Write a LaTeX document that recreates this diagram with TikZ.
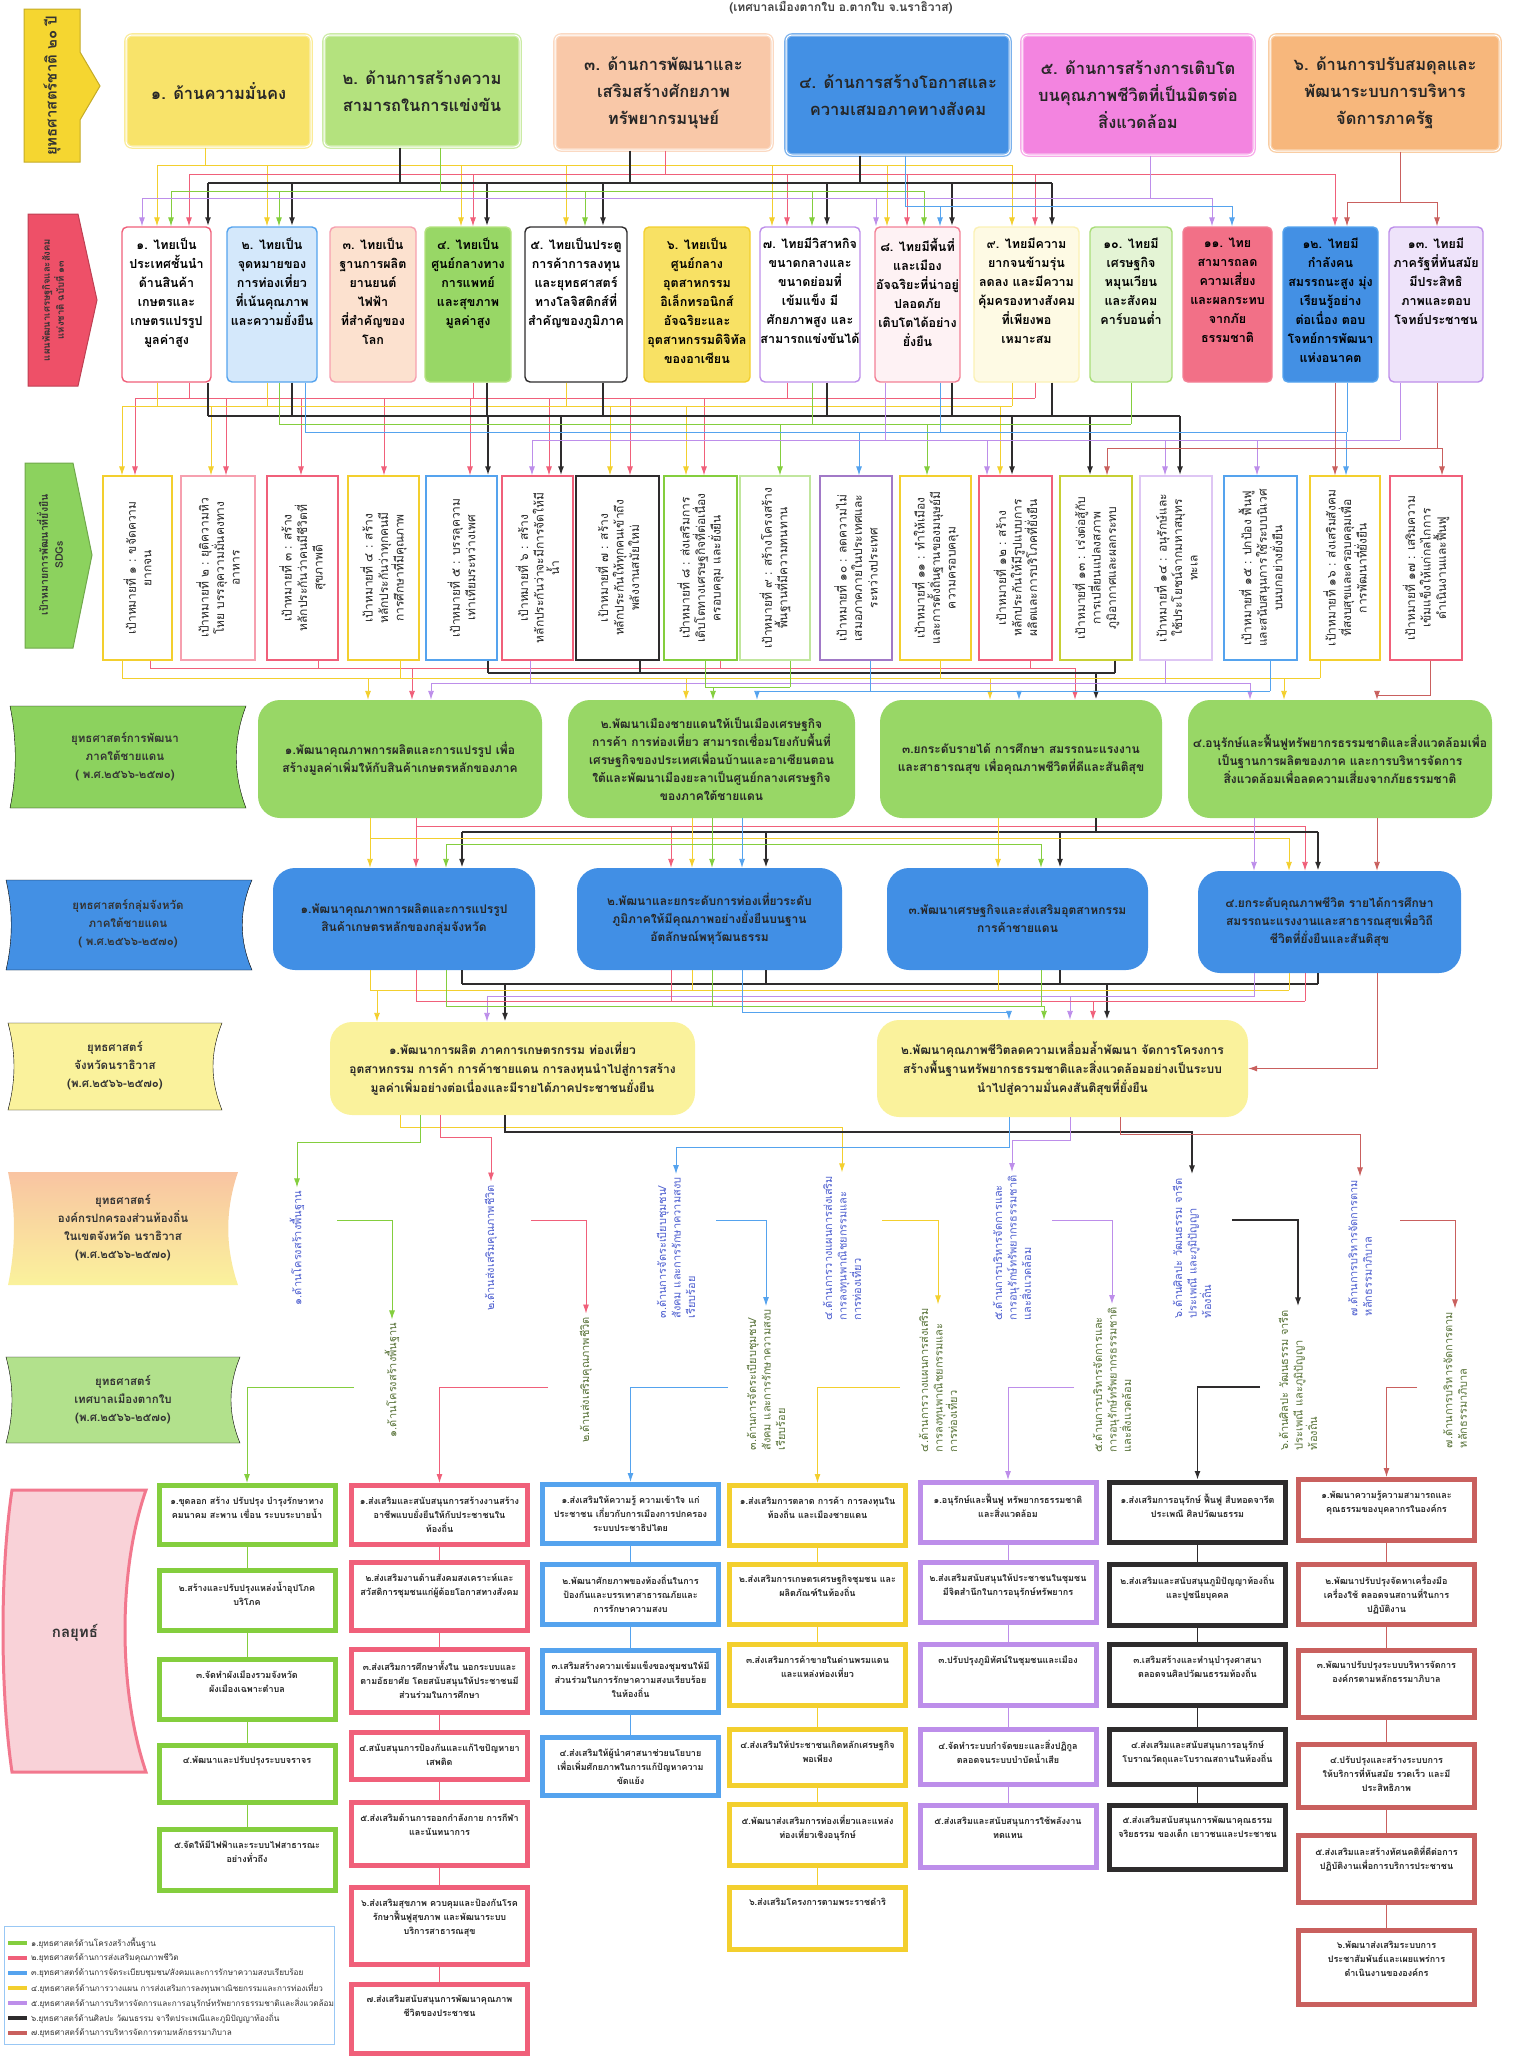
\documentclass[tikz,border=0pt]{standalone}
\usepackage{fontspec}
\setmainfont{Loma}[Script=Thai]
\usetikzlibrary{calc,arrows.meta}

\definecolor{nsYel}{HTML}{F8E36A}
\definecolor{nsGrn}{HTML}{B4E27E}
\definecolor{nsPch}{HTML}{F9C8A8}
\definecolor{nsBlu}{HTML}{4390E4}
\definecolor{nsMag}{HTML}{F384E0}
\definecolor{nsOrg}{HTML}{F7B77C}
\definecolor{lnYel}{HTML}{F3CF2E}
\definecolor{lnPnk}{HTML}{F0607A}
\definecolor{lnGrn}{HTML}{84CE3E}
\definecolor{lnBlu}{HTML}{55A3EE}
\definecolor{lnPur}{HTML}{BD8EEA}
\definecolor{lnBlk}{HTML}{2E2C2D}
\definecolor{lnBrn}{HTML}{C9605E}
\definecolor{bnYel}{HTML}{F5D630}
\definecolor{bnRed}{HTML}{EE5068}
\definecolor{bnGrn}{HTML}{8CD25E}
\definecolor{bnBlu}{HTML}{4390E4}
\definecolor{bnLem}{HTML}{FAF29C}
\definecolor{bnPch}{HTML}{F9C4A2}
\definecolor{bnPnk}{HTML}{F9D2D8}
\definecolor{regGrn}{HTML}{98D766}
\definecolor{grpBlu}{HTML}{418FE5}
\definecolor{prvYel}{HTML}{FAF29C}
\definecolor{locCol}{HTML}{4E5FCF}
\definecolor{munCol}{HTML}{587238}

\tikzset{
  nsbox/.style={draw=#1!70!white, double=white, double distance=1pt, line width=1.3pt,
    fill=#1, rounded corners=6pt, align=center, text=black!85,
    font=\fontsize{16.5}{27}\selectfont\bfseries},
  npbox/.style 2 args={draw=#1, fill=#2, line width=1.4pt, rounded corners=5pt, minimum height=155pt},
  nptext/.style={anchor=north, yshift=-8pt, align=center, font=\fontsize{12.5}{19}\selectfont\bfseries},
  sdgbox/.style={draw=#1, line width=1.2pt, fill=white, minimum height=184pt},
  sdgtext/.style={rotate=90, align=center, text=black!85, font=\fontsize{12}{15.5}\selectfont},
  rowbox/.style={fill=#1, rounded corners=22pt, align=center, text=black!85,
    font=\fontsize{12}{18}\selectfont\bfseries},
  banner/.style={fill=#1, draw=#1!80!black, line width=1pt},
  tape/.style={fill=#1},
  bantext/.style={align=center, text=black!80, font=\fontsize{11.5}{18}\selectfont\bfseries},
  loctext/.style={rotate=90, align=left, text=locCol, font=\fontsize{11}{14.5}\selectfont},
  muntext/.style={rotate=90, align=left, text=munCol, font=\fontsize{11}{14.5}\selectfont},
  kbox/.style={draw=#1, line width=5pt, fill=white, minimum width=176pt},
  ktext/.style={anchor=north, yshift=-10pt, align=center, text=black!85,
    font=\fontsize{9}{14}\selectfont\bfseries},
  lye/.style={draw=lnYel, line width=0.9pt},
  lpk/.style={draw=lnPnk, line width=0.9pt},
  lgr/.style={draw=lnGrn, line width=0.9pt},
  lbl/.style={draw=lnBlu, line width=0.9pt},
  lpu/.style={draw=lnPur, line width=0.9pt},
  lbk/.style={draw=lnBlk, line width=1.7pt},
  lbr/.style={draw=lnBrn, line width=0.9pt},
}

\begin{document}
\begin{tikzpicture}[x=1pt, y=-1pt, >={Latex[length=9pt,width=6pt]}]
\useasboundingbox (0,0) rectangle (1515,2061);

\node[font=\fontsize{12}{14}\selectfont\bfseries, text=black!75] (title) at (841,8) {(เทศบาลเมืองตากใบ อ.ตากใบ จ.นราธิวาส)};

% row labels
\draw[banner=bnYel] (24,9) -- (80,9) -- (80,52) -- (100,86) -- (80,120) -- (80,162) -- (24,162) -- cycle;
\node[bantext, rotate=90, font=\fontsize{15}{20}\selectfont\bfseries] (lab1) at (52,86) {ยุทธศาสตร์ชาติ ๒๐ ปี};
\draw[banner=bnRed] (28,214) -- (78,214) -- (97,300) -- (78,386) -- (28,386) -- cycle;
\node[bantext, rotate=90, font=\fontsize{9.5}{14}\selectfont\bfseries] (lab2) at (53,300) {แผนพัฒนาเศรษฐกิจและสังคม\\แห่งชาติ ฉบับที่ ๑๓};
\draw[banner=bnGrn] (25,463) -- (73,463) -- (92,555) -- (73,648) -- (25,648) -- cycle;
\node[bantext, rotate=90, font=\fontsize{10.5}{15}\selectfont\bfseries] (lab3) at (50,555) {เป้าหมายการพัฒนาที่ยั่งยืน\\SDGs};
\draw[tape=bnGrn] (10,706) -- (246,706) .. controls (233,740) and (233,774) .. (246,808) -- (10,808) .. controls (17,774) and (17,740) .. (10,706) -- cycle;
\node[bantext] (lab4) at (125,757) {ยุทธศาสตร์การพัฒนา\\ภาคใต้ชายแดน\\( พ.ศ.๒๕๖๖-๒๕๗๐)};
\draw[tape=bnBlu] (6,880) -- (252,880) .. controls (239,910) and (239,940) .. (252,970) -- (6,970) .. controls (13,940) and (13,910) .. (6,880) -- cycle;
\node[bantext] (lab5) at (128,924) {ยุทธศาสตร์กลุ่มจังหวัด\\ภาคใต้ชายแดน\\( พ.ศ.๒๕๖๖-๒๕๗๐)};
\draw[tape=bnLem] (8,1023) -- (222,1023) .. controls (210,1053) and (210,1080) .. (222,1110) -- (8,1110) .. controls (16,1080) and (16,1053) .. (8,1023) -- cycle;
\node[bantext] (lab6) at (115,1066) {ยุทธศาสตร์\\จังหวัดนราธิวาส\\(พ.ศ.๒๕๖๖-๒๕๗๐)};
\draw[top color=bnPch, bottom color=bnLem, draw=none] (8,1172) -- (238,1172) .. controls (225,1210) and (225,1247) .. (238,1285) -- (8,1285) .. controls (16,1247) and (16,1210) .. (8,1172) -- cycle;
\node[bantext] (lab7) at (123,1228) {ยุทธศาสตร์\\องค์กรปกครองส่วนท้องถิ่น\\ในเขตจังหวัด นราธิวาส\\(พ.ศ.๒๕๖๖-๒๕๗๐)};
\draw[tape=regGrn!75] (6,1357) -- (240,1357) .. controls (228,1386) and (228,1414) .. (240,1443) -- (6,1443) .. controls (14,1414) and (14,1386) .. (6,1357) -- cycle;
\node[bantext] (lab8) at (123,1400) {ยุทธศาสตร์\\เทศบาลเมืองตากใบ\\(พ.ศ.๒๕๖๖-๒๕๗๐)};
\draw[fill=bnPnk, draw=lnPnk!85, line width=3pt] (12,1490) -- (146,1490) .. controls (118,1570) and (118,1690) .. (146,1772) -- (12,1772) .. controls (0,1690) and (0,1570) .. (12,1490) -- cycle;
\node[bantext, font=\fontsize{15}{20}\selectfont\bfseries] (lab9) at (75,1633) {กลยุทธ์};

% national strategy
\node[nsbox=nsYel, minimum width=185pt, minimum height=112pt] (ns1) at (218.5,91) {๑. ด้านความมั่นคง};
\node[nsbox=nsGrn, minimum width=196pt, minimum height=112pt] (ns2) at (422,91) {๒. ด้านการสร้างความ\\สามารถในการแข่งขัน};
\node[nsbox=nsPch, minimum width=217pt, minimum height=115pt] (ns3) at (663.5,92.5) {๓. ด้านการพัฒนาและ\\เสริมสร้างศักยภาพ\\ทรัพยากรมนุษย์};
\node[nsbox=nsBlu, minimum width=224pt, minimum height=120pt] (ns4) at (898,95) {๔. ด้านการสร้างโอกาสและ\\ความเสมอภาคทางสังคม};
\node[nsbox=nsMag, minimum width=232pt, minimum height=120pt] (ns5) at (1138,95) {๕. ด้านการสร้างการเติบโต\\บนคุณภาพชีวิตที่เป็นมิตรต่อ\\สิ่งแวดล้อม};
\node[nsbox=nsOrg, minimum width=230pt, minimum height=116pt] (ns6) at (1385,93) {๖. ด้านการปรับสมดุลและ\\พัฒนาระบบการบริหาร\\จัดการภาครัฐ};

% national plan no. 13
\node[npbox={lnPnk}{white}, minimum width=89pt] (np1) at (166.5,304.5) {};
\node[nptext] (np1t) at (np1.north) {๑. ไทยเป็น\\ประเทศชั้นนำ\\ด้านสินค้า\\เกษตรและ\\เกษตรแปรรูป\\มูลค่าสูง};
\node[npbox={lnBlu}{lnBlu!25}, minimum width=90pt] (np2) at (272,304.5) {};
\node[nptext] (np2t) at (np2.north) {๒. ไทยเป็น\\จุดหมายของ\\การท่องเที่ยว\\ที่เน้นคุณภาพ\\และความยั่งยืน};
\node[npbox={lnPnk!60}{nsPch!55}, minimum width=86pt] (np3) at (373,304.5) {};
\node[nptext] (np3t) at (np3.north) {๓. ไทยเป็น\\ฐานการผลิต\\ยานยนต์\\ไฟฟ้า\\ที่สำคัญของ\\โลก};
\node[npbox={nsGrn}{regGrn}, minimum width=86pt] (np4) at (468,304.5) {};
\node[nptext] (np4t) at (np4.north) {๔. ไทยเป็น\\ศูนย์กลางทาง\\การแพทย์\\และสุขภาพ\\มูลค่าสูง};
\node[npbox={lnBlk}{white}, minimum width=102pt] (np5) at (576,304.5) {};
\node[nptext] (np5t) at (np5.north) {๕. ไทยเป็นประตู\\การค้าการลงทุน\\และยุทธศาสตร์\\ทางโลจิสติกส์ที่\\สำคัญของภูมิภาค};
\node[npbox={lnYel}{nsYel!90!lnYel}, minimum width=106pt] (np6) at (697,304.5) {};
\node[nptext] (np6t) at (np6.north) {๖. ไทยเป็น\\ศูนย์กลาง\\อุตสาหกรรม\\อิเล็กทรอนิกส์\\อัจฉริยะและ\\อุตสาหกรรมดิจิทัล\\ของอาเซียน};
\node[npbox={lnPur}{white}, minimum width=100pt] (np7) at (810,304.5) {};
\node[nptext] (np7t) at (np7.north) {๗. ไทยมีวิสาหกิจ\\ขนาดกลางและ\\ขนาดย่อมที่\\เข้มแข็ง มี\\ศักยภาพสูง และ\\สามารถแข่งขันได้};
\node[npbox={lnPnk!80}{lnPnk!8}, minimum width=85pt] (np8) at (917.5,304.5) {};
\node[nptext] (np8t) at (np8.north) {๘. ไทยมีพื้นที่\\และเมือง\\อัจฉริยะที่น่าอยู่\\ปลอดภัย\\เติบโตได้อย่าง\\ยั่งยืน};
\node[npbox={nsYel!50}{nsYel!18}, minimum width=105pt] (np9) at (1026.5,304.5) {};
\node[nptext] (np9t) at (np9.north) {๙. ไทยมีความ\\ยากจนข้ามรุ่น\\ลดลง และมีความ\\คุ้มครองทางสังคม\\ที่เพียงพอ\\เหมาะสม};
\node[npbox={lnGrn!70}{lnGrn!22}, minimum width=82pt] (np10) at (1131,304.5) {};
\node[nptext] (np10t) at (np10.north) {๑๐. ไทยมี\\เศรษฐกิจ\\หมุนเวียน\\และสังคม\\คาร์บอนต่ำ};
\node[npbox={lnPnk!80}{lnPnk!90}, minimum width=89pt] (np11) at (1227.5,304.5) {};
\node[nptext] (np11t) at (np11.north) {๑๑. ไทย\\สามารถลด\\ความเสี่ยง\\และผลกระทบ\\จากภัย\\ธรรมชาติ};
\node[npbox={lnBlu}{nsBlu}, minimum width=95pt] (np12) at (1330.5,304.5) {};
\node[nptext] (np12t) at (np12.north) {๑๒. ไทยมี\\กำลังคน\\สมรรถนะสูง มุ่ง\\เรียนรู้อย่าง\\ต่อเนื่อง ตอบ\\โจทย์การพัฒนา\\แห่งอนาคต};
\node[npbox={lnPur}{lnPur!25}, minimum width=94pt] (np13) at (1436,304.5) {};
\node[nptext] (np13t) at (np13.north) {๑๓. ไทยมี\\ภาครัฐที่ทันสมัย\\มีประสิทธิ\\ภาพและตอบ\\โจทย์ประชาชน};

% SDGs
\node[sdgbox=lnYel, minimum width=69pt] (sdg1) at (137.5,568) {};
\node[sdgtext] (sdg1t) at (sdg1) {เป้าหมายที่ ๑ : ขจัดความ\\ยากจน};
\node[sdgbox=lnPnk!60, minimum width=74pt] (sdg2) at (218,568) {};
\node[sdgtext] (sdg2t) at (sdg2) {เป้าหมายที่ ๒ : ยุติความหิว\\โหย บรรลุความมั่นคงทาง\\อาหาร};
\node[sdgbox=lnPnk, minimum width=71pt] (sdg3) at (302.5,568) {};
\node[sdgtext] (sdg3t) at (sdg3) {เป้าหมายที่ ๓ : สร้าง\\หลักประกันว่าคนมีชีวิตที่\\สุขภาพดี};
\node[sdgbox=lnYel, minimum width=71pt] (sdg4) at (383.5,568) {};
\node[sdgtext] (sdg4t) at (sdg4) {เป้าหมายที่ ๔ : สร้าง\\หลักประกันว่าทุกคนมี\\การศึกษาที่มีคุณภาพ};
\node[sdgbox=lnBlu, minimum width=71pt] (sdg5) at (461.5,568) {};
\node[sdgtext] (sdg5t) at (sdg5) {เป้าหมายที่ ๕ : บรรลุความ\\เท่าเทียมระหว่างเพศ};
\node[sdgbox=lnPnk, minimum width=71pt] (sdg6) at (537.5,568) {};
\node[sdgtext] (sdg6t) at (sdg6) {เป้าหมายที่ ๖ : สร้าง\\หลักประกันว่าจะมีการจัดให้มี\\น้ำ};
\node[sdgbox=lnBlk, minimum width=83pt] (sdg7) at (617.5,568) {};
\node[sdgtext] (sdg7t) at (sdg7) {เป้าหมายที่ ๗ : สร้าง\\หลักประกันให้ทุกคนเข้าถึง\\พลังงานสมัยใหม่};
\node[sdgbox=lnGrn, minimum width=73pt] (sdg8) at (700.5,568) {};
\node[sdgtext] (sdg8t) at (sdg8) {เป้าหมายที่ ๘ : ส่งเสริมการ\\เติบโตทางเศรษฐกิจที่ต่อเนื่อง\\ครอบคลุม และยั่งยืน};
\node[sdgbox=lnGrn!50, minimum width=70pt] (sdg9) at (775,568) {};
\node[sdgtext] (sdg9t) at (sdg9) {เป้าหมายที่ ๙ : สร้างโครงสร้าง\\พื้นฐานที่มีความทนทาน};
\node[sdgbox=lnPur!85!black, minimum width=72pt] (sdg10) at (856,568) {};
\node[sdgtext] (sdg10t) at (sdg10) {เป้าหมายที่ ๑๐ : ลดความไม่\\เสมอภาคภายในประเทศและ\\ระหว่างประเทศ};
\node[sdgbox=lnYel, minimum width=71pt] (sdg11) at (935.5,568) {};
\node[sdgtext] (sdg11t) at (sdg11) {เป้าหมายที่ ๑๑ : ทำให้เมือง\\และการตั้งถิ่นฐานของมนุษย์มี\\ความครอบคลุม};
\node[sdgbox=lnPnk, minimum width=73pt] (sdg12) at (1015.5,568) {};
\node[sdgtext] (sdg12t) at (sdg12) {เป้าหมายที่ ๑๒ : สร้าง\\หลักประกันให้มีรูปแบบการ\\ผลิตและการบริโภคที่ยั่งยืน};
\node[sdgbox=lnYel!60!lnGrn, minimum width=72pt] (sdg13) at (1096,568) {};
\node[sdgtext] (sdg13t) at (sdg13) {เป้าหมายที่ ๑๓ : เร่งต่อสู้กับ\\การเปลี่ยนแปลงสภาพ\\ภูมิอากาศและผลกระทบ};
\node[sdgbox=lnPur!50, minimum width=72pt] (sdg14) at (1176,568) {};
\node[sdgtext] (sdg14t) at (sdg14) {เป้าหมายที่ ๑๔ : อนุรักษ์และ\\ใช้ประโยชน์จากมหาสมุทร\\ทะเล};
\node[sdgbox=lnBlu, minimum width=73pt] (sdg15) at (1260.5,568) {};
\node[sdgtext] (sdg15t) at (sdg15) {เป้าหมายที่ ๑๕ : ปกป้อง ฟื้นฟู\\และสนับสนุนการใช้ระบบนิเวศ\\บนบกอย่างยั่งยืน};
\node[sdgbox=lnYel, minimum width=70pt] (sdg16) at (1345,568) {};
\node[sdgtext] (sdg16t) at (sdg16) {เป้าหมายที่ ๑๖ : ส่งเสริมสังคม\\ที่สงบสุขและครอบคลุมเพื่อ\\การพัฒนาที่ยั่งยืน};
\node[sdgbox=lnPnk, minimum width=72pt] (sdg17) at (1426,568) {};
\node[sdgtext] (sdg17t) at (sdg17) {เป้าหมายที่ ๑๗ : เสริมความ\\เข้มแข็งให้แก่กลไกการ\\ดำเนินงานและฟื้นฟู};

% southern border region
\node[rowbox=regGrn, minimum width=284pt, minimum height=118pt] (reg1) at (400,759) {๑.พัฒนาคุณภาพการผลิตและการแปรรูป เพื่อ\\สร้างมูลค่าเพิ่มให้กับสินค้าเกษตรหลักของภาค};
\node[rowbox=regGrn, minimum width=287pt, minimum height=118pt] (reg2) at (711.5,759) {๒.พัฒนาเมืองชายแดนให้เป็นเมืองเศรษฐกิจ\\การค้า การท่องเที่ยว สามารถเชื่อมโยงกับพื้นที่\\เศรษฐกิจของประเทศเพื่อนบ้านและอาเซียนตอน\\ใต้และพัฒนาเมืองยะลาเป็นศูนย์กลางเศรษฐกิจ\\ของภาคใต้ชายแดน};
\node[rowbox=regGrn, minimum width=282pt, minimum height=118pt] (reg3) at (1021,759) {๓.ยกระดับรายได้ การศึกษา สมรรถนะแรงงาน\\และสาธารณสุข เพื่อคุณภาพชีวิตที่ดีและสันติสุข};
\node[rowbox=regGrn, minimum width=304pt, minimum height=118pt] (reg4) at (1340,759) {๔.อนุรักษ์และฟื้นฟูทรัพยากรธรรมชาติและสิ่งแวดล้อมเพื่อ\\เป็นฐานการผลิตของภาค และการบริหารจัดการ\\สิ่งแวดล้อมเพื่อลดความเสี่ยงจากภัยธรรมชาติ};

% province group
\node[rowbox=grpBlu, minimum width=262pt, minimum height=102pt] (grp1) at (404,919) {๑.พัฒนาคุณภาพการผลิตและการแปรรูป\\สินค้าเกษตรหลักของกลุ่มจังหวัด};
\node[rowbox=grpBlu, minimum width=265pt, minimum height=102pt] (grp2) at (709.5,919) {๒.พัฒนาและยกระดับการท่องเที่ยวระดับ\\ภูมิภาคให้มีคุณภาพอย่างยั่งยืนบนฐาน\\อัตลักษณ์พหุวัฒนธรรม};
\node[rowbox=grpBlu, minimum width=261pt, minimum height=102pt] (grp3) at (1017.5,919) {๓.พัฒนาเศรษฐกิจและส่งเสริมอุตสาหกรรม\\การค้าชายแดน};
\node[rowbox=grpBlu, minimum width=263pt, minimum height=102pt] (grp4) at (1329.5,922) {๔.ยกระดับคุณภาพชีวิต รายได้การศึกษา\\สมรรถนะแรงงานและสาธารณสุขเพื่อวิถี\\ชีวิตที่ยั่งยืนและสันติสุข};

% province
\node[rowbox=prvYel, minimum width=365pt, minimum height=93pt, font=\fontsize{12}{19}\selectfont\bfseries] (prv1) at (512.5,1068.5) {๑.พัฒนาการผลิต ภาคการเกษตรกรรม ท่องเที่ยว\\อุตสาหกรรม การค้า การค้าชายแดน การลงทุนนำไปสู่การสร้าง\\มูลค่าเพิ่มอย่างต่อเนื่องและมีรายได้ภาคประชาชนยั่งยืน};
\node[rowbox=prvYel, minimum width=371pt, minimum height=97pt, font=\fontsize{12}{19}\selectfont\bfseries] (prv2) at (1062.5,1068.5) {๒.พัฒนาคุณภาพชีวิตลดความเหลื่อมล้ำพัฒนา จัดการโครงการ\\สร้างพื้นฐานทรัพยากรธรรมชาติและสิ่งแวดล้อมอย่างเป็นระบบ\\นำไปสู่ความมั่นคงสันติสุขที่ยั่งยืน};

% local government / municipality
\node[loctext] (loc1) at (297,1248) {๑.ด้านโครงสร้างพื้นฐาน};
\node[loctext] (loc2) at (491,1248) {๒.ด้านส่งเสริมคุณภาพชีวิต};
\node[loctext] (loc3) at (676,1248) {๓.ด้านการจัดระเบียบชุมชน/\\สังคม และการรักษาความสงบ\\เรียบร้อย};
\node[loctext] (loc4) at (842,1248) {๔.ด้านการวางแผนการส่งเสริม\\การลงทุนพาณิชยกรรมและ\\การท่องเที่ยว};
\node[loctext] (loc5) at (1012,1248) {๕.ด้านการบริหารจัดการและ\\การอนุรักษ์ทรัพยากรธรรมชาติ\\และสิ่งแวดล้อม};
\node[loctext] (loc6) at (1192,1248) {๖.ด้านศิลปะ วัฒนธรรม จารีต\\ประเพณี และภูมิปัญญา\\ท้องถิ่น};
\node[loctext] (loc7) at (1360,1248) {๗.ด้านการบริหารจัดการตาม\\หลักธรรมาภิบาล};
\node[muntext] (mun1) at (392,1380) {๑.ด้านโครงสร้างพื้นฐาน};
\node[muntext] (mun2) at (586,1380) {๒.ด้านส่งเสริมคุณภาพชีวิต};
\node[muntext] (mun3) at (766,1380) {๓.ด้านการจัดระเบียบชุมชน/\\สังคม และการรักษาความสงบ\\เรียบร้อย};
\node[muntext] (mun4) at (938,1380) {๔.ด้านการวางแผนการส่งเสริม\\การลงทุนพาณิชยกรรมและ\\การท่องเที่ยว};
\node[muntext] (mun5) at (1112,1380) {๕.ด้านการบริหารจัดการและ\\การอนุรักษ์ทรัพยากรธรรมชาติ\\และสิ่งแวดล้อม};
\node[muntext] (mun6) at (1298,1380) {๖.ด้านศิลปะ วัฒนธรรม จารีต\\ประเพณี และภูมิปัญญา\\ท้องถิ่น};
\node[muntext] (mun7) at (1455,1380) {๗.ด้านการบริหารจัดการตาม\\หลักธรรมาภิบาล};

% strategies
\node[kbox=lnGrn, minimum height=59pt] (ka1) at (247,1515) {};
\node[ktext] (ka1t) at (ka1.north) {๑.ขุดลอก สร้าง ปรับปรุง บำรุงรักษาทาง\\คมนาคม สะพาน เขื่อน ระบบระบายน้ำ};
\node[kbox=lnGrn, minimum height=60pt] (ka2) at (247,1600.5) {};
\node[ktext] (ka2t) at (ka2.north) {๒.สร้างและปรับปรุงแหล่งน้ำอุปโภค\\บริโภค};
\node[kbox=lnGrn, minimum height=60pt] (ka3) at (247,1689.5) {};
\node[ktext] (ka3t) at (ka3.north) {๓.จัดทำผังเมืองรวมจังหวัด\\ผังเมืองเฉพาะตำบล};
\node[kbox=lnGrn, minimum height=57pt] (ka4) at (247,1774) {};
\node[ktext] (ka4t) at (ka4.north) {๔.พัฒนาและปรับปรุงระบบจราจร};
\node[kbox=lnGrn, minimum height=61pt] (ka5) at (247,1860) {};
\node[ktext] (ka5t) at (ka5.north) {๕.จัดให้มีไฟฟ้าและระบบไฟสาธารณะ\\อย่างทั่วถึง};

\node[kbox=lnPnk, minimum height=59pt] (kb1) at (439.5,1515) {};
\node[ktext] (kb1t) at (kb1.north) {๑.ส่งเสริมและสนับสนุนการสร้างงานสร้าง\\อาชีพแบบยั่งยืนให้กับประชาชนใน\\ท้องถิ่น};
\node[kbox=lnPnk, minimum height=68pt] (kb2) at (439.5,1596.5) {};
\node[ktext] (kb2t) at (kb2.north) {๒.ส่งเสริมงานด้านสังคมสงเคราะห์และ\\สวัสดิการชุมชนแก่ผู้ด้อยโอกาสทางสังคม};
\node[kbox=lnPnk, minimum height=63pt] (kb3) at (439.5,1681) {};
\node[ktext] (kb3t) at (kb3.north) {๓.ส่งเสริมการศึกษาทั้งใน นอกระบบและ\\ตามอัธยาศัย โดยสนับสนุนให้ประชาชนมี\\ส่วนร่วมในการศึกษา};
\node[kbox=lnPnk, minimum height=47pt] (kb4) at (439.5,1756) {};
\node[ktext] (kb4t) at (kb4.north) {๔.สนับสนุนการป้องกันและแก้ไขปัญหายา\\เสพติด};
\node[kbox=lnPnk, minimum height=63pt] (kb5) at (439.5,1834) {};
\node[ktext] (kb5t) at (kb5.north) {๕.ส่งเสริมด้านการออกกำลังกาย การกีฬา\\และนันทนาการ};
\node[kbox=lnPnk, minimum height=77pt] (kb6) at (439.5,1926) {};
\node[ktext] (kb6t) at (kb6.north) {๖.ส่งเสริมสุขภาพ ควบคุมและป้องกันโรค\\รักษาฟื้นฟูสุขภาพ และพัฒนาระบบ\\บริการสาธารณสุข};
\node[kbox=lnPnk, minimum height=69pt] (kb7) at (439.5,2019) {};
\node[ktext] (kb7t) at (kb7.north) {๗.ส่งเสริมสนับสนุนการพัฒนาคุณภาพ\\ชีวิตของประชาชน};

\node[kbox=lnBlu, minimum height=59pt] (kc1) at (630.5,1514) {};
\node[ktext] (kc1t) at (kc1.north) {๑.ส่งเสริมให้ความรู้ ความเข้าใจ แก่\\ประชาชน เกี่ยวกับการเมืองการปกครอง\\ระบบประชาธิปไตย};
\node[kbox=lnBlu, minimum height=60pt] (kc2) at (630.5,1594.5) {};
\node[ktext] (kc2t) at (kc2.north) {๒.พัฒนาศักยภาพของท้องถิ่นในการ\\ป้องกันและบรรเทาสาธารณภัยและ\\การรักษาความสงบ};
\node[kbox=lnBlu, minimum height=62pt] (kc3) at (630.5,1681.5) {};
\node[ktext] (kc3t) at (kc3.north) {๓.เสริมสร้างความเข้มแข็งของชุมชนให้มี\\ส่วนร่วมในการรักษาความสงบเรียบร้อย\\ในท้องถิ่น};
\node[kbox=lnBlu, minimum height=58pt] (kc4) at (630.5,1766.5) {};
\node[ktext] (kc4t) at (kc4.north) {๔.ส่งเสริมให้ผู้นำศาสนาช่วยนโยบาย\\เพื่อเพิ่มศักยภาพในการแก้ปัญหาความ\\ขัดแย้ง};

\node[kbox=lnYel, minimum height=60pt] (kd1) at (817.5,1515.5) {};
\node[ktext] (kd1t) at (kd1.north) {๑.ส่งเสริมการตลาด การค้า การลงทุนใน\\ท้องถิ่น และเมืองชายแดน};
\node[kbox=lnYel, minimum height=60pt] (kd2) at (817.5,1594.5) {};
\node[ktext] (kd2t) at (kd2.north) {๒.ส่งเสริมการเกษตรเศรษฐกิจชุมชน และ\\ผลิตภัณฑ์ในท้องถิ่น};
\node[kbox=lnYel, minimum height=61pt] (kd3) at (817.5,1675) {};
\node[ktext] (kd3t) at (kd3.north) {๓.ส่งเสริมการค้าขายในด่านพรมแดน\\และแหล่งท่องเที่ยว};
\node[kbox=lnYel, minimum height=56pt] (kd4) at (817.5,1757.5) {};
\node[ktext] (kd4t) at (kd4.north) {๔.ส่งเสริมให้ประชาชนเกิดหลักเศรษฐกิจ\\พอเพียง};
\node[kbox=lnYel, minimum height=61pt] (kd5) at (817.5,1835) {};
\node[ktext] (kd5t) at (kd5.north) {๕.พัฒนาส่งเสริมการท่องเที่ยวและแหล่ง\\ท่องเที่ยวเชิงอนุรักษ์};
\node[kbox=lnYel, minimum height=62pt] (kd6) at (817.5,1918.5) {};
\node[ktext] (kd6t) at (kd6.north) {๖.ส่งเสริมโครงการตามพระราชดำริ};

\node[kbox=lnPur, minimum height=60pt] (ke1) at (1008,1512.5) {};
\node[ktext] (ke1t) at (ke1.north) {๑.อนุรักษ์และฟื้นฟู ทรัพยากรธรรมชาติ\\และสิ่งแวดล้อม};
\node[kbox=lnPur, minimum height=60pt] (ke2) at (1008,1592.5) {};
\node[ktext] (ke2t) at (ke2.north) {๒.ส่งเสริมสนับสนุนให้ประชาชนในชุมชน\\มีจิตสำนึกในการอนุรักษ์ทรัพยากร};
\node[kbox=lnPur, minimum height=61pt] (ke3) at (1008,1675) {};
\node[ktext] (ke3t) at (ke3.north) {๓.ปรับปรุงภูมิทัศน์ในชุมชนและเมือง};
\node[kbox=lnPur, minimum height=55pt] (ke4) at (1008,1757) {};
\node[ktext] (ke4t) at (ke4.north) {๔.จัดทำระบบกำจัดขยะและสิ่งปฏิกูล\\ตลอดจนระบบบำบัดน้ำเสีย};
\node[kbox=lnPur, minimum height=62pt] (ke5) at (1008,1836.5) {};
\node[ktext] (ke5t) at (ke5.north) {๕.ส่งเสริมและสนับสนุนการใช้พลังงาน\\ทดแทน};

\node[kbox=lnBlk, minimum height=60pt] (kf1) at (1197.5,1512.5) {};
\node[ktext] (kf1t) at (kf1.north) {๑.ส่งเสริมการอนุรักษ์ ฟื้นฟู สืบทอดจารีต\\ประเพณี ศิลปวัฒนธรรม};
\node[kbox=lnBlk, minimum height=61pt] (kf2) at (1197.5,1595) {};
\node[ktext] (kf2t) at (kf2.north) {๒.ส่งเสริมและสนับสนุนภูมิปัญญาท้องถิ่น\\และปูชนียบุคคล};
\node[kbox=lnBlk, minimum height=61pt] (kf3) at (1197.5,1675) {};
\node[ktext] (kf3t) at (kf3.north) {๓.เสริมสร้างและทำนุบำรุงศาสนา\\ตลอดจนศิลปวัฒนธรรมท้องถิ่น};
\node[kbox=lnBlk, minimum height=55pt] (kf4) at (1197.5,1757) {};
\node[ktext] (kf4t) at (kf4.north) {๔.ส่งเสริมและสนับสนุนการอนุรักษ์\\โบราณวัตถุและโบราณสถานในท้องถิ่น};
\node[kbox=lnBlk, minimum height=64pt] (kf5) at (1197.5,1837.5) {};
\node[ktext] (kf5t) at (kf5.north) {๕.ส่งเสริมสนับสนุนการพัฒนาคุณธรรม\\จริยธรรม ของเด็ก เยาวชนและประชาชน};

\node[kbox=lnBrn, minimum height=61pt] (kg1) at (1386.5,1510) {};
\node[ktext] (kg1t) at (kg1.north) {๑.พัฒนาความรู้ความสามารถและ\\คุณธรรมของบุคลากรในองค์กร};
\node[kbox=lnBrn, minimum height=60pt] (kg2) at (1386.5,1594.5) {};
\node[ktext] (kg2t) at (kg2.north) {๒.พัฒนาปรับปรุงจัดหาเครื่องมือ\\เครื่องใช้ ตลอดจนสถานที่ในการ\\ปฏิบัติงาน};
\node[kbox=lnBrn, minimum height=67pt] (kg3) at (1386.5,1684) {};
\node[ktext] (kg3t) at (kg3.north) {๓.พัฒนาปรับปรุงระบบบริหารจัดการ\\องค์กรตามหลักธรรมาภิบาล};
\node[kbox=lnBrn, minimum height=63pt] (kg4) at (1386.5,1776) {};
\node[ktext] (kg4t) at (kg4.north) {๔.ปรับปรุงและสร้างระบบการ\\ให้บริการที่ทันสมัย รวดเร็ว และมี\\ประสิทธิภาพ};
\node[kbox=lnBrn, minimum height=67pt] (kg5) at (1386.5,1869) {};
\node[ktext] (kg5t) at (kg5.north) {๕.ส่งเสริมและสร้างทัศนคติที่ดีต่อการ\\ปฏิบัติงานเพื่อการบริการประชาชน};
\node[kbox=lnBrn, minimum height=74pt] (kg6) at (1386.5,1967.5) {};
\node[ktext] (kg6t) at (kg6.north) {๖.พัฒนาส่งเสริมระบบการ\\ประชาสัมพันธ์และเผยแพร่การ\\ดำเนินงานขององค์กร};

% national strategy -> national plan
\draw[lye] (205,0 |- ns1.south) -- (205,165) (157,165) -- (1012,165);
\foreach \x/\nd in {157/np1,267/np2,461/np4,566/np5,772/np7,887/np8,1012/np9}
  \draw[lye,->] (\x,165) -- (\x,0 |- \nd.north);
\draw[lpk] (665,0 |- ns3.south) -- (665,174) (189,174) -- (1335,174);
\foreach \x/\nd in {189/np1,473/np4,787/np7,907/np8,1035/np9,1335/np12}
  \draw[lpk,->] (\x,174) -- (\x,0 |- \nd.north);
\foreach \x/\nd in {400/ns2,630/ns3,860/ns4}
  \draw[lbk] (\x,0 |- \nd.south) -- (\x,183);
\draw[lbk] (208,183) -- (1052,183);
\foreach \x/\nd in {208/np1,292/np2,487/np4,603/np5,827/np7,952/np8,1052/np9}
  \draw[lbk,->] (\x,183) -- (\x,0 |- \nd.north);
\draw[lgr] (440,0 |- ns2.south) -- (440,191) (171,191) -- (924,191);
\foreach \x/\nd in {171/np1,279/np2,585/np5,812/np7,924/np8}
  \draw[lgr,->] (\x,191) -- (\x,0 |- \nd.north);
\draw[lpu] (1150,0 |- ns5.south) -- (1150,198) (142,198) -- (1212,198);
\foreach \x/\nd in {142/np1,876/np8,1212/np11}
  \draw[lpu,->] (\x,198) -- (\x,0 |- \nd.north);
\draw[lbl] (905,0 |- ns4.south) -- (905,206) -- (1232,206);
\foreach \x/\nd in {940/np8,1232/np11}
  \draw[lbl,->] (\x,206) -- (\x,0 |- \nd.north);
\draw[lbr] (1400,0 |- ns6.south) -- (1400,202) (1347,202) -- (1437,202);
\foreach \x/\nd in {1347/np12,1437/np13}
  \draw[lbr,->] (\x,202) -- (\x,0 |- \nd.north);

% national plan -> SDGs
\foreach \x/\nd in {189/np1,473/np4,787/np7,1035/np9}
  \draw[lpk] (\x,0 |- \nd.south) -- (\x,398);
\draw[lpk] (135,398) -- (1035,398);
\foreach \x/\nd in {135/sdg1,226/sdg2,301/sdg3,384/sdg4,470/sdg5,549/sdg6,630/sdg7,704/sdg8}
  \draw[lpk,->] (\x,398) -- (\x,0 |- \nd.north);
\foreach \x/\nd in {157/np1,267/np2,566/np5,1012/np9}
  \draw[lye] (\x,0 |- \nd.south) -- (\x,406);
\draw[lye] (122,406) -- (1012,406);
\foreach \x/\nd in {122/sdg1,211/sdg2,610/sdg7,686/sdg8,1000/sdg12}
  \draw[lye,->] (\x,406) -- (\x,0 |- \nd.north);
\foreach \x/\nd in {208/np1,292/np2,487/np4,603/np5,827/np7,952/np8,1052/np9}
  \draw[lbk] (\x,0 |- \nd.south) -- (\x,416);
\draw[lbk] (208,416) -- (1180,416);
\foreach \x/\nd in {488/sdg5,561/sdg6,1012/sdg12,1090/sdg13,1180/sdg14}
  \draw[lbk,->] (\x,416) -- (\x,0 |- \nd.north);
\foreach \x/\nd in {279/np2,812/np7,1131/np10}
  \draw[lgr] (\x,0 |- \nd.south) -- (\x,424);
\draw[lgr] (279,424) -- (1131,424);
\foreach \x/\nd in {780/sdg9,927/sdg11}
  \draw[lgr,->] (\x,424) -- (\x,0 |- \nd.north);
\foreach \x/\nd in {305/np2,940/np8,1347/np12}
  \draw[lbl] (\x,0 |- \nd.south) -- (\x,432);
\draw[lbl] (305,432) -- (1347,432);
\foreach \x/\nd in {859/sdg10,1346/sdg16}
  \draw[lbl,->] (\x,432) -- (\x,0 |- \nd.north);
\foreach \x/\nd in {885/np8,1400/np13}
  \draw[lpu] (\x,0 |- \nd.south) -- (\x,440);
\draw[lpu] (532,440) -- (1400,440);
\foreach \x/\nd in {532/sdg6,987/sdg12,1165/sdg14,1257/sdg15}
  \draw[lpu,->] (\x,440) -- (\x,0 |- \nd.north);
\foreach \x/\nd in {1335/np12,1437/np13}
  \draw[lbr] (\x,0 |- \nd.south) -- (\x,448);
\draw[lbr] (1107,448) -- (1442,448);
\foreach \x/\nd in {1107/sdg13,1335/sdg16,1442/sdg17}
  \draw[lbr,->] (\x,448) -- (\x,0 |- \nd.north);

% SDGs -> southern border region
\foreach \x/\nd in {150/sdg1,318/sdg3,720/sdg8,1030/sdg12}
  \draw[lpk] (\x,0 |- \nd.south) -- (\x,668);
\draw[lpk] (150,668) -- (1075,668);
\foreach \x/\nd in {412/reg1,1075/reg3}
  \draw[lpk,->] (\x,668) -- (\x,0 |- \nd.north);
\foreach \x/\nd in {488/sdg5,640/sdg7,1115/sdg13}
  \draw[lbk] (\x,0 |- \nd.south) -- (\x,673);
\draw[lbk] (488,673) -- (1115,673);
\draw[lbk,->] (1096,673) -- (1096,0 |- reg3.north);
\foreach \x/\nd in {122/sdg1,400/sdg4,940/sdg11,1320/sdg16}
  \draw[lye] (\x,0 |- \nd.south) -- (\x,678);
\draw[lye] (122,678) -- (1320,678);
\foreach \x/\nd in {368/reg1,686/reg2,990/reg3,1284/reg4}
  \draw[lye,->] (\x,678) -- (\x,0 |- \nd.north);
\foreach \x/\nd in {530/sdg6,1165/sdg14}
  \draw[lpu] (\x,0 |- \nd.south) -- (\x,683);
\draw[lpu] (431,683) -- (1250,683);
\foreach \x/\nd in {431/reg1,1250/reg4}
  \draw[lpu,->] (\x,683) -- (\x,0 |- \nd.north);
\foreach \x/\nd in {705/sdg8,790/sdg9}
  \draw[lgr] (\x,0 |- \nd.south) -- (\x,687);
\draw[lgr] (705,687) -- (790,687);
\draw[lgr,->] (713,687) -- (713,0 |- reg2.north);
\foreach \x/\nd in {870/sdg10,1270/sdg15}
  \draw[lbl] (\x,0 |- \nd.south) -- (\x,691);
\draw[lbl] (757,691) -- (1270,691);
\foreach \x/\nd in {757/reg2,1019/reg3}
  \draw[lbl,->] (\x,691) -- (\x,0 |- \nd.north);
\draw[lbr] (1430,0 |- sdg17.south) -- (1430,695) -- (1377,695);
\draw[lbr,->] (1377,695) -- (1377,0 |- reg4.north);

% southern border region -> province group
\draw[lpk] (416,0 |- reg1.south) -- (416,826) -- (1305,826);
\foreach \x/\nd in {416/grp1,671/grp2,1305/grp4}
  \draw[lpk,->] (\x,826) -- (\x,0 |- \nd.north);
\draw[lbk] (1096,0 |- reg3.south) -- (1096,832) (462,832) -- (1318,832);
\foreach \x/\nd in {462/grp1,766/grp2,1060/grp3,1318/grp4}
  \draw[lbk,->] (\x,832) -- (\x,0 |- \nd.north);
\foreach \x/\nd in {370/reg1,692/reg2,998/reg3}
  \draw[lye] (\x,0 |- \nd.south) -- (\x,838);
\draw[lye] (370,838) -- (1289,838);
\foreach \x/\nd in {370/grp1,692/grp2,998/grp3,1289/grp4}
  \draw[lye,->] (\x,838) -- (\x,0 |- \nd.north);
\draw[lgr] (712,0 |- reg2.south) -- (712,844) (446,844) -- (1041,844);
\foreach \x/\nd in {446/grp1,712/grp2,1041/grp3}
  \draw[lgr,->] (\x,844) -- (\x,0 |- \nd.north);
\draw[lbl,->] (742,0 |- reg2.south) -- (742,0 |- grp2.north);
\draw[lpu,->] (1254,0 |- reg4.south) -- (1254,0 |- grp4.north);
\draw[lbr,->] (1377,0 |- reg4.south) -- (1377,0 |- grp4.north);

% province group -> province
\foreach \x/\nd in {462/grp1,766/grp2,1060/grp3,1318/grp4}
  \draw[lbk] (\x,0 |- \nd.south) -- (\x,984);
\draw[lbk] (462,984) -- (1318,984);
\foreach \x/\nd in {505/prv1,1107/prv2}
  \draw[lbk,->] (\x,984) -- (\x,0 |- \nd.north);
\foreach \x/\nd in {370/grp1,692/grp2,998/grp3,1289/grp4}
  \draw[lye] (\x,0 |- \nd.south) -- (\x,990);
\draw[lye] (370,990) -- (1289,990);
\draw[lye,->] (377,990) -- (377,0 |- prv1.north);
\draw[lpu] (1254,0 |- grp4.south) -- (1254,996) -- (487,996);
\foreach \x/\nd in {487/prv1,1070/prv2}
  \draw[lpu,->] (\x,996) -- (\x,0 |- \nd.north);
\foreach \x/\nd in {416/grp1,671/grp2,1305/grp4}
  \draw[lpk] (\x,0 |- \nd.south) -- (\x,1001);
\draw[lpk] (416,1001) -- (1305,1001);
\draw[lpk,->] (1093,1001) -- (1093,0 |- prv2.north);
\foreach \x/\nd in {446/grp1,712/grp2,1041/grp3}
  \draw[lgr] (\x,0 |- \nd.south) -- (\x,1006);
\draw[lgr] (446,1006) -- (1044,1006);
\draw[lgr,->] (1044,1006) -- (1044,0 |- prv2.north);
\draw[lbl] (742,0 |- grp2.south) -- (742,1012) -- (1009,1012);
\draw[lbl,->] (1009,1012) -- (1009,0 |- prv2.north);
\draw[lbr,->] (1377,0 |- grp4.south) |- (prv2.east);

% province -> local government
\draw[lye,->] (400,0 |- prv1.south) -- (400,1127) -| (loc4.east);
\draw[lbk,->] (505,0 |- prv1.south) -- (505,1132) -| (loc6.east);
\draw[lpk,->] (440,0 |- prv1.south) -- (440,1137) -| (loc2.east);
\draw[lgr,->] (420,0 |- prv1.south) -- (420,1142) -| (loc1.east);
\draw[lbr,->] (1120,0 |- prv2.south) -- (1120,1134) -| (loc7.east);
\draw[lpu,->] (1070,0 |- prv2.south) -- (1070,1140) -| (loc5.east);
\draw[lbl,->] (1009,0 |- prv2.south) -- (1009,1147) -| (loc3.east);

% local government -> municipality -> strategies
\foreach \i/\c/\k in {1/lgr/ka1,2/lpk/kb1,3/lbl/kc1,4/lye/kd1,5/lpu/ke1,6/lbk/kf1,7/lbr/kg1} {
  \draw[\c,->] ($(loc\i.center)+(40,-28)$) -| (mun\i.east);
  \draw[\c,->] ($(mun\i.center)+(-38,7)$) -| (\k.north);
}
\foreach \a/\b in {1/2,2/3,3/4,4/5} \draw[lgr] (ka\a.south) -- (ka\b.north);
\foreach \a/\b in {1/2,2/3,3/4,4/5,5/6,6/7} \draw[lpk] (kb\a.south) -- (kb\b.north);
\foreach \a/\b in {1/2,2/3,3/4} \draw[lbl] (kc\a.south) -- (kc\b.north);
\foreach \a/\b in {1/2,2/3,3/4,4/5,5/6} \draw[lye] (kd\a.south) -- (kd\b.north);
\foreach \a/\b in {1/2,2/3,3/4,4/5} \draw[lpu] (ke\a.south) -- (ke\b.north);
\foreach \a/\b in {1/2,2/3,3/4,4/5} \draw[lbk] (kf\a.south) -- (kf\b.north);
\foreach \a/\b in {1/2,2/3,3/4,4/5,5/6} \draw[lbr] (kg\a.south) -- (kg\b.north);

% legend
\node[draw=lnBlu!60, line width=0.8pt, minimum width=330pt, minimum height=118pt] (legend) at (169,1985) {};
\foreach \y/\c/\t in {1943/lgr/{๑.ยุทธศาสตร์ด้านโครงสร้างพื้นฐาน},
  1958/lpk/{๒.ยุทธศาสตร์ด้านการส่งเสริมคุณภาพชีวิต},
  1973/lbl/{๓.ยุทธศาสตร์ด้านการจัดระเบียบชุมชน/สังคมและการรักษาความสงบเรียบร้อย},
  1988/lye/{๔.ยุทธศาสตร์ด้านการวางแผน การส่งเสริมการลงทุนพาณิชยกรรมและการท่องเที่ยว},
  2003/lpu/{๕.ยุทธศาสตร์ด้านการบริหารจัดการและการอนุรักษ์ทรัพยากรธรรมชาติและสิ่งแวดล้อม},
  2018/lbk/{๖.ยุทธศาสตร์ด้านศิลปะ วัฒนธรรม จารีตประเพณีและภูมิปัญญาท้องถิ่น},
  2033/lbr/{๗.ยุทธศาสตร์ด้านการบริหารจัดการตามหลักธรรมาภิบาล}} {
  \draw[\c, line width=4pt] (8,\y) -- (27,\y);
  \node[anchor=west, inner sep=0pt, text=black!80, font=\fontsize{8.2}{10}\selectfont] (leg\y) at (31,\y) {\t};
}
\end{tikzpicture}
\end{document}
